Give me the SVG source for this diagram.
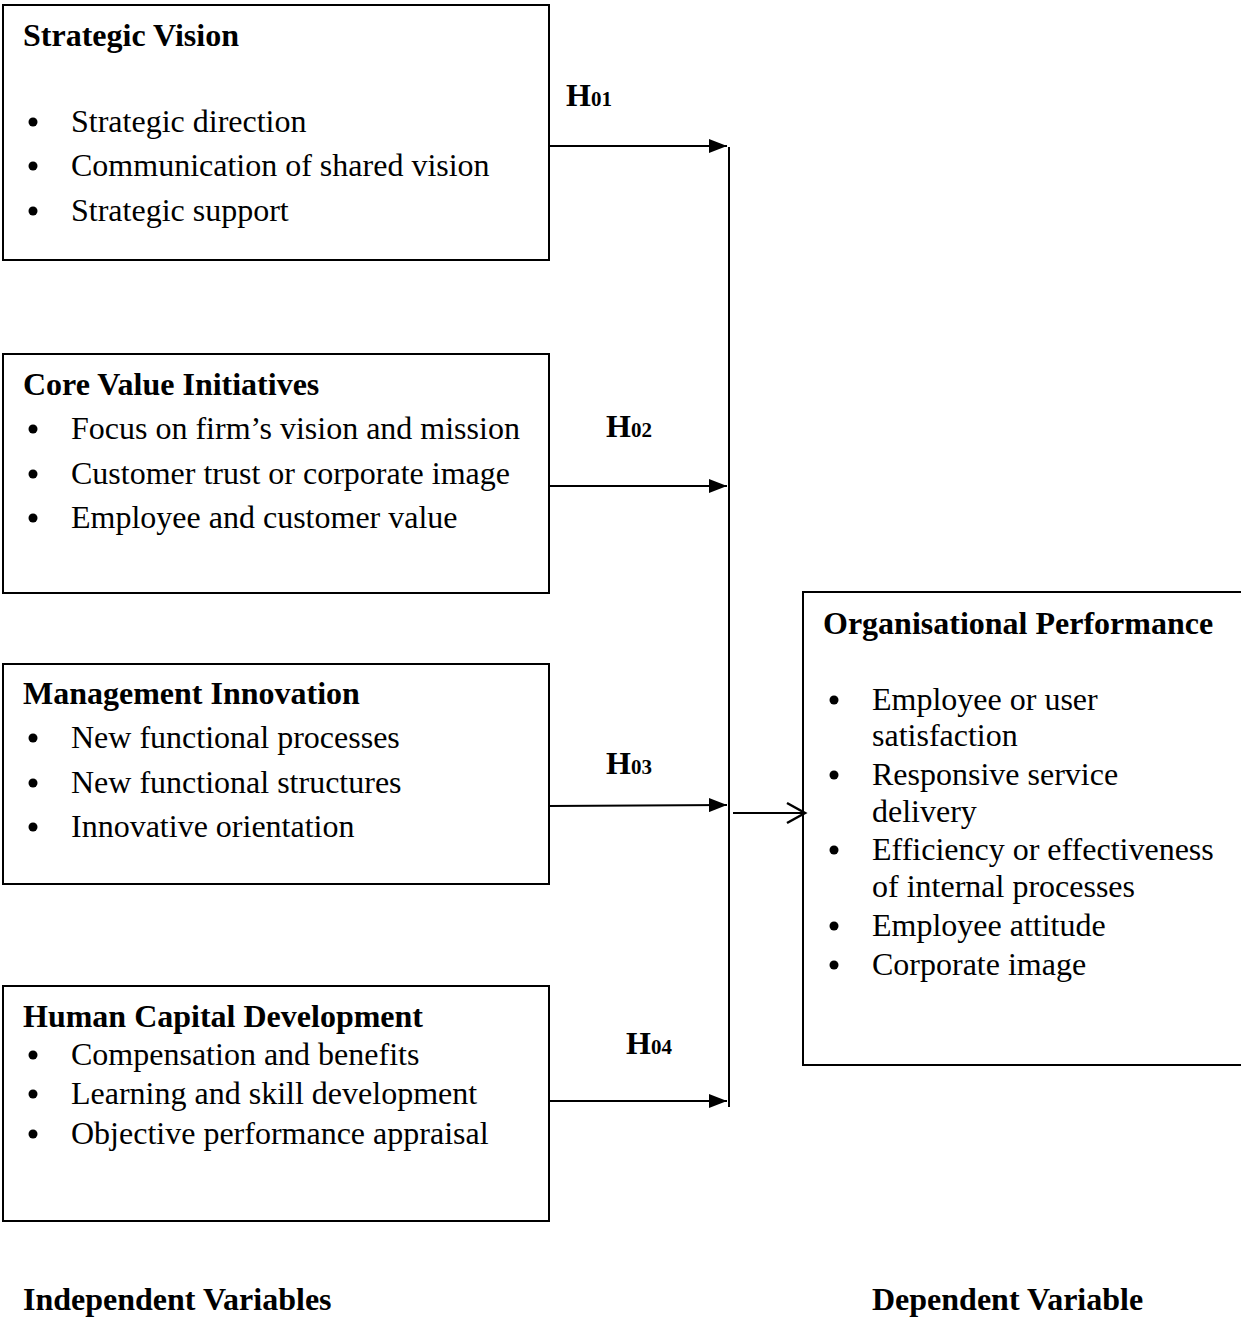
<svg xmlns="http://www.w3.org/2000/svg" width="1241" height="1331" viewBox="0 0 1241 1331">
<style>
text{font-family:"Liberation Serif","Times New Roman",serif;font-size:32px;fill:#000}
.b{font-weight:bold}
.s{font-size:21px;font-weight:bold}
rect{fill:none;stroke:#000;stroke-width:2}
line{stroke:#000;stroke-width:2}
circle{fill:#000}
</style>
<defs>
<marker id="fa" viewBox="0 0 18 14" refX="18" refY="7" markerWidth="18" markerHeight="14" markerUnits="userSpaceOnUse" orient="auto"><path d="M0,0 L18,7 L0,14 Z" fill="#000"/></marker>
</defs>
<g id="sv">
<rect x="3" y="5" width="546" height="255"/>
<text x="23" y="46" class="b">Strategic Vision</text>
<circle cx="33" cy="122" r="4.5"/><text x="71" y="132">Strategic direction</text>
<circle cx="33" cy="166" r="4.5"/><text x="71" y="176">Communication of shared vision</text>
<circle cx="33" cy="211" r="4.5"/><text x="71" y="221">Strategic support</text>
</g>
<g id="cv">
<rect x="3" y="354" width="546" height="239"/>
<text x="23" y="395" class="b">Core Value Initiatives</text>
<circle cx="33" cy="429" r="4.5"/><text x="71" y="439">Focus on firm’s vision and mission</text>
<circle cx="33" cy="474" r="4.5"/><text x="71" y="484">Customer trust or corporate image</text>
<circle cx="33" cy="518" r="4.5"/><text x="71" y="528">Employee and customer value</text>
</g>
<g id="mi">
<rect x="3" y="664" width="546" height="220"/>
<text x="23" y="704" class="b">Management Innovation</text>
<circle cx="33" cy="738" r="4.5"/><text x="71" y="748">New functional processes</text>
<circle cx="33" cy="783" r="4.5"/><text x="71" y="793">New functional structures</text>
<circle cx="33" cy="827" r="4.5"/><text x="71" y="837">Innovative orientation</text>
</g>
<g id="hc">
<rect x="3" y="986" width="546" height="235"/>
<text x="23" y="1027" class="b">Human Capital Development</text>
<circle cx="33" cy="1055" r="4.5"/><text x="71" y="1065">Compensation and benefits</text>
<circle cx="33" cy="1094" r="4.5"/><text x="71" y="1104">Learning and skill development</text>
<circle cx="33" cy="1134" r="4.5"/><text x="71" y="1144">Objective performance appraisal</text>
</g>
<g id="op">
<rect x="803" y="592" width="445" height="473"/>
<text x="823" y="634" class="b">Organisational Performance</text>
<circle cx="834" cy="700" r="4.5"/><text x="872" y="710">Employee or user</text>
<text x="872" y="746">satisfaction</text>
<circle cx="834" cy="775" r="4.5"/><text x="872" y="785">Responsive service</text>
<text x="872" y="822">delivery</text>
<circle cx="834" cy="850" r="4.5"/><text x="872" y="860">Efficiency or effectiveness</text>
<text x="872" y="897">of internal processes</text>
<circle cx="834" cy="926" r="4.5"/><text x="872" y="936">Employee attitude</text>
<circle cx="834" cy="965" r="4.5"/><text x="872" y="975">Corporate image</text>
</g>
<g id="labels">
<text x="566" y="106" class="b">H<tspan class="s">01</tspan></text>
<text x="606" y="437" class="b">H<tspan class="s">02</tspan></text>
<text x="606" y="774" class="b">H<tspan class="s">03</tspan></text>
<text x="626" y="1054" class="b">H<tspan class="s">04</tspan></text>
<text x="23" y="1310" class="b">Independent Variables</text>
<text x="872" y="1310" class="b">Dependent Variable</text>
</g>
<g id="connectors">
<line x1="729" y1="147" x2="729" y2="1107"/>
<line x1="549" y1="146" x2="727" y2="146" marker-end="url(#fa)"/>
<line x1="549" y1="486" x2="727" y2="486" marker-end="url(#fa)"/>
<line x1="549" y1="806" x2="727" y2="805" marker-end="url(#fa)"/>
<line x1="549" y1="1101" x2="727" y2="1101" marker-end="url(#fa)"/>
<line x1="733" y1="813" x2="805" y2="813"/>
<path d="M787,803 L805,813 L787,823" fill="none" stroke="#000" stroke-width="2.5"/>
</g>
</svg>
